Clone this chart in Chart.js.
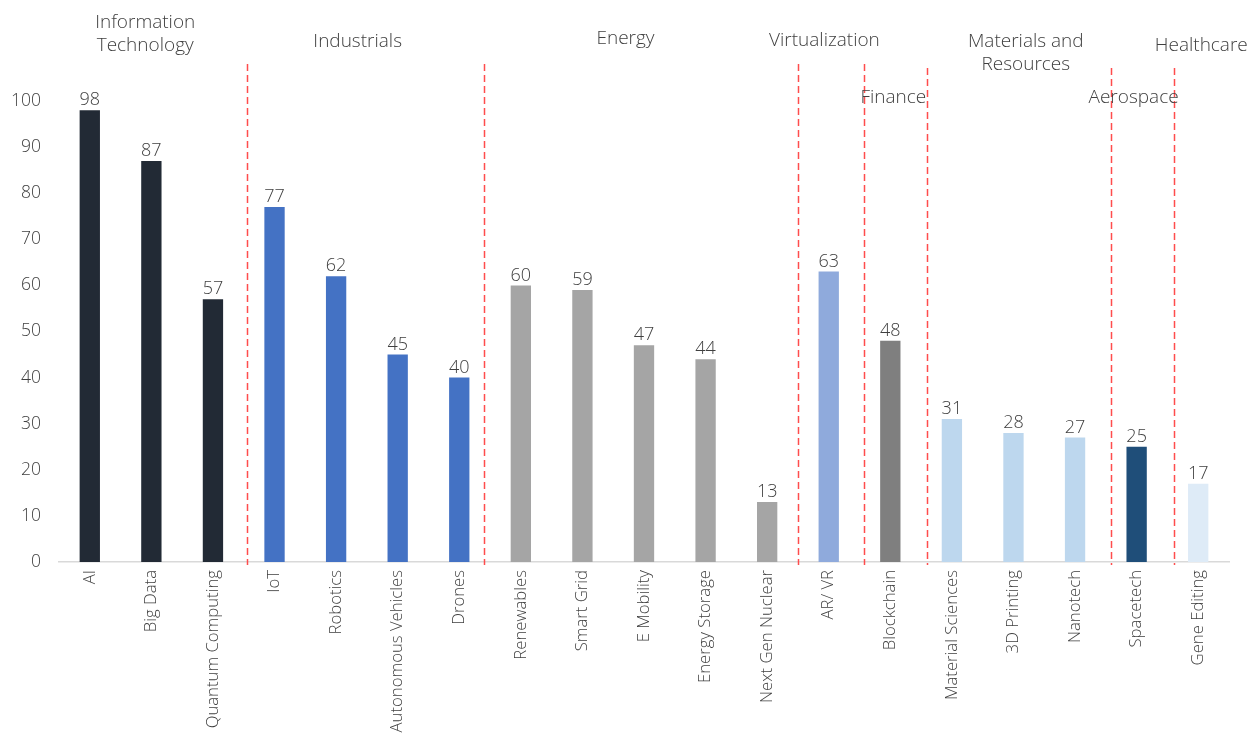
<!DOCTYPE html>
<html>
<head>
<meta charset="utf-8">
<script src="https://cdn.jsdelivr.net/npm/chart.js@4/dist/chart.umd.min.js"></script>
<style>
  html, body { margin: 0; padding: 0; background: #fff; }
  #wrap { width: 1258px; height: 733px; }
</style>
</head>
<body>
<div id="wrap"><canvas id="chart"></canvas></div>
<script>
const categories = ['AI', 'Big Data', 'Quantum Computing', 'IoT', 'Robotics', 'Autonomous Vehicles', 'Drones',
    'Renewables', 'Smart Grid', 'E Mobility', 'Energy Storage', 'Next Gen Nuclear', 'AR/ VR', 'Blockchain',
    'Material Sciences', '3D Printing', 'Nanotech', 'Spacetech', 'Gene Editing'];
const scores = [98, 87, 57, 77, 62, 45, 40, 60, 59, 47, 44, 13, 63, 48, 31, 28, 27, 25, 17];
const barColors = ['#222a35', '#222a35', '#222a35', '#4472c4', '#4472c4', '#4472c4', '#4472c4',
    '#a5a5a5', '#a5a5a5', '#a5a5a5', '#a5a5a5', '#a5a5a5', '#8faadc', '#7f7f7f',
    '#bdd7ee', '#bdd7ee', '#bdd7ee', '#1f4e79', '#deebf7'];
const yTicks = [0, 10, 20, 30, 40, 50, 60, 70, 80, 90, 100];

// sector headings: text lines, centre (category index), top y in px
const sectors = [
    { lines: ['Information', 'Technology'], at: 0.9, y: 24 },
    { lines: ['Industrials'], at: 4.35, y: 43 },
    { lines: ['Energy'], at: 8.7, y: 40 },
    { lines: ['Virtualization'], at: 11.93, y: 42 },
    { lines: ['Finance'], at: 13.05, y: 99 },
    { lines: ['Materials and', 'Resources'], at: 15.2, y: 43 },
    { lines: ['Aerospace'], at: 16.95, y: 99 },
    { lines: ['Healthcare'], at: 18.05, y: 47 }
];
// dashed separators between sectors (category index units) and where they start
const dividers = [2.55, 6.4, 11.5, 12.57, 13.6, 16.58, 17.6];
const dividerTops = [64, 64, 64, 64, 68, 68, 68];

const FONT = '"Open Sans", "Noto Sans", sans-serif';
const TEXT = '#404040';

const overlay = {
    id: 'overlay',
    afterDatasetsDraw(chart) {
        const ctx = chart.ctx;
        const x = chart.scales.x;
        const bottom = chart.chartArea.bottom + 3;

        // value above each bar
        const meta = chart.getDatasetMeta(0);
        ctx.save();
        ctx.fillStyle = TEXT;
        ctx.font = '300 18px ' + FONT;
        ctx.textAlign = 'center';
        ctx.textBaseline = 'bottom';
        meta.data.forEach((bar, i) => {
            ctx.fillText(String(scores[i]), bar.x, bar.y - 1);
        });

        // separators
        ctx.strokeStyle = '#ff4d4d';
        ctx.lineWidth = 1.5;
        ctx.setLineDash([7, 4]);
        dividers.forEach((d, i) => {
            const px = Math.round(x.getPixelForValue(d)) + 0.5;
            ctx.beginPath();
            ctx.moveTo(px, dividerTops[i]);
            ctx.lineTo(px, bottom);
            ctx.stroke();
        });
        ctx.setLineDash([]);

        // sector headings
        ctx.font = '300 19px ' + FONT;
        ctx.textBaseline = 'top';
        sectors.forEach(s => {
            const cx = x.getPixelForValue(s.at);
            s.lines.forEach((line, k) => {
                ctx.fillText(line, cx, s.y - 11 + k * 23);
            });
        });
        ctx.restore();
    }
};

new Chart(document.getElementById('chart'), {
    type: 'bar',
    data: {
        labels: categories,
        datasets: [{
            data: scores,
            backgroundColor: barColors,
            barPercentage: 0.33,
            categoryPercentage: 1
        }]
    },
    options: {
        responsive: true,
        maintainAspectRatio: false,
        animation: false,
        layout: { padding: { top: 101, right: 29, left: 0, bottom: 0 } },
        plugins: { legend: { display: false }, tooltip: { enabled: false } },
        scales: {
            x: {
                afterFit(scale) { scale.height = 171; },
                grid: { display: false, drawTicks: false },
                border: { display: true, color: '#d9d9d9', width: 1.5 },
                ticks: {
                    color: TEXT,
                    font: { family: FONT, size: 16.7, weight: '300' },
                    minRotation: 90,
                    maxRotation: 90,
                    autoSkip: false,
                    padding: 8
                }
            },
            y: {
                min: 0,
                max: 100,
                afterFit(scale) { scale.width = 59; },
                afterBuildTicks(scale) { scale.ticks = yTicks.map(v => ({ value: v })); },
                grid: { display: false, drawTicks: false },
                border: { display: false },
                ticks: {
                    color: TEXT,
                    font: { family: FONT, size: 17.5, weight: '300' },
                    padding: 18
                }
            }
        }
    },
    plugins: [overlay]
});
</script>
</body>
</html>
